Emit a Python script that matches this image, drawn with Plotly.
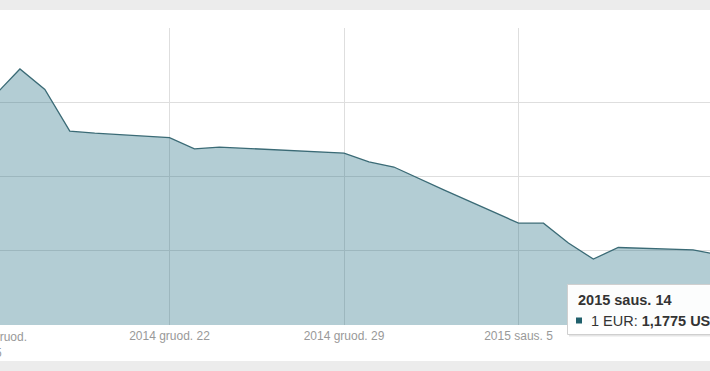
import plotly.graph_objects as go

# ---- data ----
dates = ['2014-12-15', '2014-12-16', '2014-12-17', '2014-12-18', '2014-12-19',
         '2014-12-22', '2014-12-23', '2014-12-24', '2014-12-29', '2014-12-30',
         '2014-12-31', '2015-01-02', '2015-01-05', '2015-01-06', '2015-01-07',
         '2015-01-08', '2015-01-09', '2015-01-12', '2015-01-13', '2015-01-14']
eur_usd = [1.2274, 1.2362, 1.2293, 1.2153, 1.2146,
           1.2131, 1.2093, 1.2099, 1.2079, 1.2049,
           1.2032, 1.1955, 1.1843, 1.1843, 1.1776,
           1.1722, 1.1761, 1.1753, 1.1737, 1.1775]

tick_dates = ['2014-12-22', '2014-12-29', '2015-01-05']
tick_labels = ['2014 gruod. 22', '2014 gruod. 29', '2015 saus. 5']
first_tick_label = '2014 gruod.<br>15'
tooltip_title = '2015 saus. 14'
tooltip_series = '1 EUR'
tooltip_value = '1,1775 USD'

W, H = 710, 371
TOP, BOT = 28, 325          # plot area top / bottom in px
PH = BOT - TOP

def py(ypx):                # pixel row -> paper y
    return (BOT - ypx) / PH

def px(xpx):                # pixel col -> paper x
    return xpx / W

FONT = 'Liberation Sans, Arial, Helvetica, sans-serif'
LINE = '#3b6b76'
FILL = 'rgba(38,112,132,0.35)'
GRID = '#dedede'

fig = go.Figure()
fig.add_trace(go.Scatter(
    x=dates, y=eur_usd, mode='lines',
    line=dict(color=LINE, width=1.3),
    fill='tozeroy', fillcolor=FILL,
    hoverinfo='skip', showlegend=False))

fig.update_layout(
    width=W, height=H,
    margin=dict(l=0, r=0, t=TOP, b=H - BOT, pad=0),
    paper_bgcolor='white', plot_bgcolor='white',
    font=dict(family=FONT),
    xaxis=dict(type='date',
               range=['2014-12-15 04:49', '2015-01-12 16:19'],
               tickmode='array', tickvals=tick_dates, ticktext=tick_labels,
               showgrid=True, gridcolor=GRID, gridwidth=1,
               ticks='', showline=False, zeroline=False,
               ticklabelstandoff=2,
               tickfont=dict(size=12, color='#999999', family=FONT)),
    yaxis=dict(range=[1.15, 1.25], tick0=1.15, dtick=0.025,
               showgrid=True, gridcolor=GRID, gridwidth=1,
               showticklabels=False, ticks='', zeroline=False, showline=False),
    shapes=[
        # page background bands
        dict(type='rect', xref='paper', yref='paper', x0=-0.05, x1=1.05,
             y0=py(10), y1=py(-5), fillcolor='#ececec', line=dict(width=0), layer='above'),
        dict(type='rect', xref='paper', yref='paper', x0=-0.05, x1=1.05,
             y0=py(376), y1=py(361), fillcolor='#ececec', line=dict(width=0), layer='above'),
        # tooltip shadow
        dict(type='rect', xref='paper', yref='paper', x0=px(569), x1=px(740),
             y0=py(336.5), y1=py(286), fillcolor='rgba(0,0,0,0.10)', line=dict(width=0), layer='above'),
        # tooltip box
        dict(type='rect', xref='paper', yref='paper', x0=px(567.5), x1=px(740),
             y0=py(334.5), y1=py(284.5), fillcolor='rgba(255,255,255,0.97)',
             line=dict(color='#cfcfcf', width=1), layer='above'),
        # tooltip series marker
        dict(type='rect', xref='paper', yref='paper', x0=px(576), x1=px(582),
             y0=py(323.5), y1=py(317.5), fillcolor='#1f5f6b', line=dict(width=0), layer='above'),
    ],
    annotations=[
        dict(text=first_tick_label, xref='paper', yref='paper', x=px(-5), y=py(328),
             xanchor='center', yanchor='top', showarrow=False,
             font=dict(size=12, color='#999999', family=FONT)),
        dict(text='<b>' + tooltip_title + '</b>', xref='paper', yref='paper',
             x=px(575.5), y=py(300), xanchor='left', yanchor='middle', showarrow=False,
             font=dict(size=14.5, color='#333333', family=FONT)),
        dict(text=tooltip_series + ': <b>' + tooltip_value + '</b>', xref='paper', yref='paper',
             x=px(588.5), y=py(320.5), xanchor='left', yanchor='middle', showarrow=False,
             font=dict(size=14.5, color='#333333', family=FONT)),
    ],
)

fig.write_html('out.html', config={'displayModeBar': False},
               post_script="document.body.style.margin='0';")
